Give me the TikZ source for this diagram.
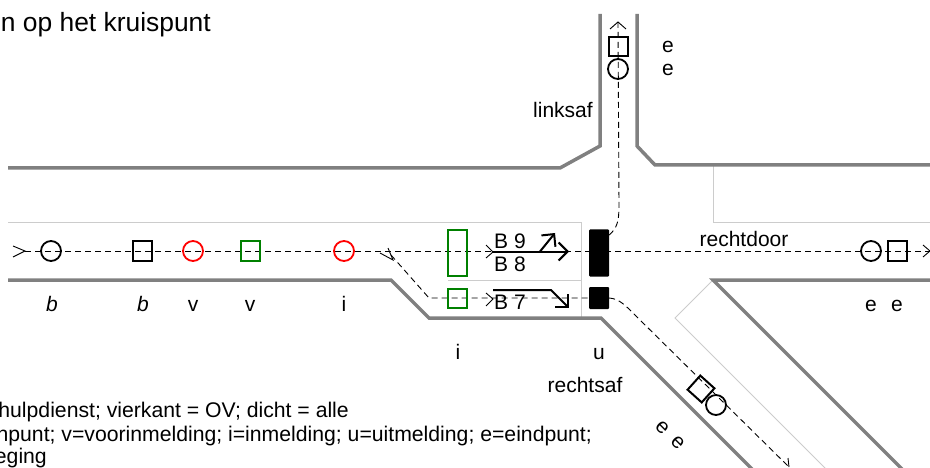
\documentclass[tikz,border=0pt]{standalone}
\usepackage{fontspec}
\setmainfont{Liberation Sans}
\usepackage{tikz}
\usetikzlibrary{arrows.meta}
\definecolor{roadgray}{RGB}{128,128,128}
\definecolor{lanegray}{RGB}{204,204,204}
\definecolor{loopgreen}{RGB}{0,128,0}
\tikzset{
  road/.style={draw=roadgray, line width=3.5pt},
  lane/.style={draw=lanegray, line width=1pt},
  route/.style={draw=black, line width=0.9pt, dash pattern=on 6pt off 4pt},
  barb/.style={draw=black, line width=0.9pt},
  fat tip/.style={-{Straight Barb[length=9pt,width=18pt,line width=2pt]}, line width=2pt},
  loopc/.style={circle, draw=#1, line width=1.8pt, minimum size=20pt, inner sep=0pt},
  loopc/.default=black,
  loops/.style={rectangle, draw=#1, line width=2pt, minimum size=19pt, inner sep=0pt},
  loops/.default=black,
  signal/.style={rectangle, fill=black, rounded corners=1pt, minimum width=20pt, inner sep=0pt},
  tag/.style={font=\fontsize{21}{21}\selectfont, inner sep=0pt, anchor=base},
  legend/.style={font=\fontsize{21.2}{21.2}\selectfont, inner sep=0pt, anchor=base east}
}
\begin{document}
\begin{tikzpicture}[x=1pt,y=-1pt]
  \useasboundingbox (0,0) rectangle (930,468);
  \clip (0,0) rectangle (930,468);
  % lanes
  \draw[lane] (8,223) -- (581,223) -- (581,318);
  \draw[lane] (448,280) -- (581,280);
  \draw[lane] (713,165) -- (713,223) -- (930,223);
  \draw[lane] (713,280) -- (675,318) -- (840,483);
  % road edges
  \draw[road] (8,168) -- (560,168) -- (600,146) -- (600,14);
  \draw[road] (637,14) -- (637,146) -- (655,165) -- (930,165);
  \draw[road] (8,280) -- (391,280) -- (429,318) -- (601,318) -- (770,487);
  \draw[road] (930,280) -- (713,280) -- (930,497);
  % signals
  \node[signal, minimum height=47pt] (sigmain) at (599,253) {};
  \node[signal, minimum height=22pt] (sigright) at (599,298) {};
  % ends of the routes
  \coordinate (start) at (25,251);
  \coordinate (split) at (391,255);
  \coordinate (endstraight) at (930,251);
  \coordinate (endleft) at (618,22);
  \coordinate (endright) at (789,467);
  % routes
  \draw[route] (start) -- (endstraight);
  \draw[route] (split) -- (429,298) -- (sigright.west);
  \draw[route] (sigright.east) .. controls (620,299) and (625,305) .. (640,320) -- (endright);
  \draw[route] (sigmain.east |- 0,235) .. controls (617,228) and (619,222) .. (619,205) -- (endleft);
  % small arrows
  \draw[barb] (13,246) -- (start) -- (13,257);
  \draw[barb] (380,253) -- (393,260) -- (388,248);
  \draw[barb] (486,245) -- (493,252) -- (486,258);
  \draw[barb] (486,293) -- (493,299) -- (486,306);
  \draw[barb] (610,29) -- (endleft) -- (626,29);
  \draw[barb] (923,245) -- (endstraight) -- (923,257);
  \draw[barb] (788,458) -- (endright);
  % loops
  \node[loopc] (lb1) at (51,251) {};
  \node[loops] (lb2) at (142,251) {};
  \node[loopc=red] (lv1) at (193,251) {};
  \node[loops=loopgreen] (lv2) at (250,251) {};
  \node[loopc=red] (li1) at (344,251) {};
  \node[loops=loopgreen, minimum height=46pt] (li2) at (457.5,253) {};
  \node[loops=loopgreen] (li3) at (457.5,298.5) {};
  \node[loops] (ltop1) at (618,46.5) {};
  \node[loopc] (ltop2) at (618,69) {};
  \node[loopc] (lr1) at (871,251) {};
  \node[loops] (lr2) at (897,251) {};
  \node[loops, rotate=-42] (ld1) at (701,389) {};
  \node[loopc] (ld2) at (716,405) {};
  % turning signs
  \draw[fat tip] (493,251.5) -- (569,251.5);
  \draw[fat tip] (540,251.5) -- (555,233);
  \draw[fat tip] (493,290) -- (551,290) -- (569,308);
  % texts
  \node[tag, anchor=base west] (tb9) at (494,248) {B 9};
  \node[tag, anchor=base west] (tb8) at (494,271) {B 8};
  \node[tag, anchor=base west] (tb7) at (494,309) {B 7};
  \node[tag, font=\fontsize{21}{21}\selectfont\itshape] (tlb1) at (52,311) {b};
  \node[tag, font=\fontsize{21}{21}\selectfont\itshape] (tlb2) at (143,311) {b};
  \node[tag] (tv1) at (193,311) {v};
  \node[tag] (tv2) at (250,311) {v};
  \node[tag] (ti1) at (344,311) {i};
  \node[tag] (ti2) at (458,359) {i};
  \node[tag] (tu) at (599,359) {u};
  \node[tag] (te1) at (668,53) {e};
  \node[tag] (te2) at (668,76) {e};
  \node[tag] (te3) at (871,311) {e};
  \node[tag] (te4) at (897,311) {e};
  \node[tag, rotate=-45] (te5) at (666,439) {e\hspace{10pt}e};
  \node[tag] (tleft) at (563,118) {linksaf};
  \node[tag] (tstraight) at (744,247) {rechtdoor};
  \node[tag] (tright) at (585,392) {rechtsaf};
  \node[inner sep=0pt, anchor=base east, font=\fontsize{26.4}{26.4}\selectfont] (ttitle) at (211,32) {n op het kruispunt};
  \node[legend] (tl1) at (349,417) {hulpdienst; vierkant = OV; dicht = alle};
  \node[legend] (tl2) at (592,441) {npunt; v=voorinmelding; i=inmelding; u=uitmelding; e=eindpunt;};
  \node[legend] (tl3) at (47,463) {eging};
\end{tikzpicture}
\end{document}
